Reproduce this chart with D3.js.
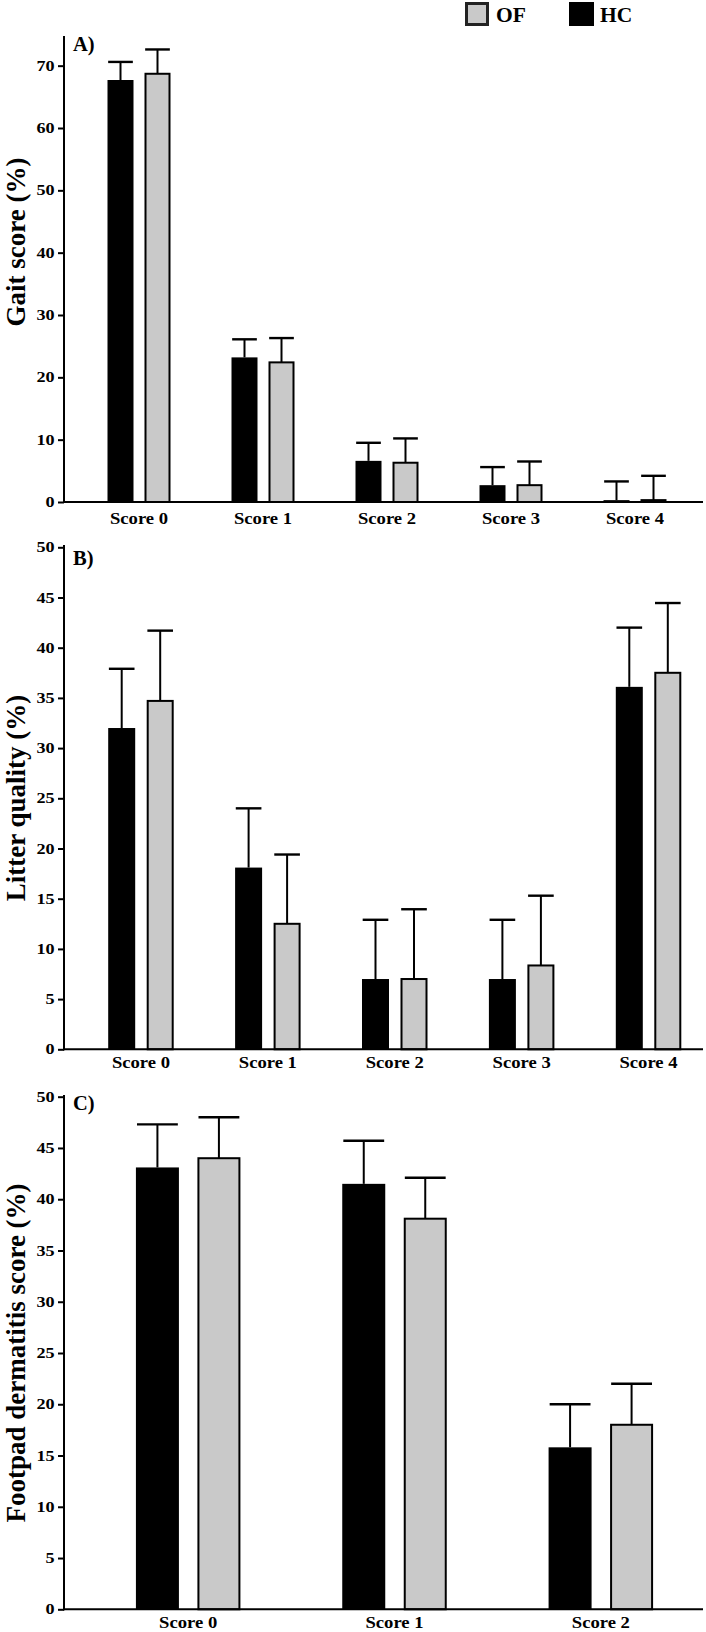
<!DOCTYPE html>
<html><head><meta charset="utf-8">
<script src="https://cdn.jsdelivr.net/npm/d3@7"></script>
<style>
html,body{margin:0;padding:0;background:#fff;}
svg{display:block;}
text{font-family:"Liberation Serif","Times New Roman",serif;font-weight:bold;fill:#000;}
</style>
</head><body>
<svg id="chart" width="706" height="1632"></svg>
<script>
// ---------- data ----------
const series = ["HC", "OF"];
const catsAB = ["Score 0", "Score 1", "Score 2", "Score 3", "Score 4"];
const catsC = ["Score 0", "Score 1", "Score 2"];

const gaitHC = [67.7, 23.2, 6.6, 2.7, 0.3];
const gaitHCErr = [2.9, 2.9, 2.9, 2.9, 3.0];
const gaitOF = [68.7, 22.4, 6.3, 2.7, 0.3];
const gaitOFErr = [3.9, 3.9, 3.9, 3.8, 3.9];

const litterHC = [32.0, 18.1, 7.0, 7.0, 36.1];
const litterHCErr = [5.9, 5.9, 5.9, 5.9, 5.9];
const litterOF = [34.7, 12.5, 7.0, 8.35, 37.5];
const litterOFErr = [7.0, 6.9, 6.95, 6.95, 6.95];

const footHC = [43.1, 41.5, 15.8];
const footHCErr = [4.2, 4.2, 4.2];
const footOF = [44.0, 38.1, 18.0];
const footOFErr = [4.0, 4.0, 4.0];

const gaitTicks = [0, 10, 20, 30, 40, 50, 60, 70];
const fiveTicks = [0, 5, 10, 15, 20, 25, 30, 35, 40, 45, 50];

const legendItems = ["OF", "HC"];
const colors = {HC: "#000000", OF: "#c9c9c9"};

// ---------- layout ----------
const axisX = 64;
const xEnd = 703;
const panels = [
  {label: "A)", title: "Gait score (%)", cats: catsAB, hc: gaitHC, hcErr: gaitHCErr, of: gaitOF, ofErr: gaitOFErr,
   yMax: 75, ticks: gaitTicks, y0: 502, yTop: 34.5, axisTop: 36, xr: [77, 697], bw: 26, gap: 11,
   labelY: 50.7, catY: 523.5, titleY: 242},
  {label: "B)", title: "Litter quality (%)", cats: catsAB, hc: litterHC, hcErr: litterHCErr, of: litterOF, ofErr: litterOFErr,
   yMax: 50, ticks: fiveTicks, y0: 1049.3, yTop: 547.3, axisTop: 545, xr: [77.5, 712], bw: 27, gap: 11.5,
   labelY: 565, catY: 1067.5, titleY: 798},
  {label: "C)", title: "Footpad dermatitis score (%)", cats: catsC, hc: footHC, hcErr: footHCErr, of: footOF, ofErr: footOFErr,
   yMax: 50, ticks: fiveTicks, y0: 1609.3, yTop: 1096.7, axisTop: 1095, xr: [85, 704], bw: 43, gap: 18.5,
   labelY: 1110, catY: 1627.5, titleY: 1353}
];

const svg = d3.select("#chart");

panels.forEach(p => {
  const g = svg.append("g");
  const y = d3.scaleLinear().domain([0, p.yMax]).range([p.y0, p.yTop]);
  const x0 = d3.scaleBand().domain(p.cats).range(p.xr).paddingInner(0).paddingOuter(0);
  const W = 2 * p.bw + p.gap;
  const x1 = d3.scaleBand().domain(series).range([-W / 2, W / 2])
    .paddingInner(p.gap / (p.bw + p.gap)).paddingOuter(0);

  const rows = [];
  p.cats.forEach((c, i) => {
    rows.push({cat: c, s: "HC", v: p.hc[i], e: p.hcErr[i]});
    rows.push({cat: c, s: "OF", v: p.of[i], e: p.ofErr[i]});
  });
  const cx = d => x0(d.cat) + x0.bandwidth() / 2 + x1(d.s);

  // bars
  g.selectAll("rect.bar").data(rows).enter().append("rect")
    .attr("class", "bar")
    .attr("x", d => d.s === "OF" ? cx(d) + 1 : cx(d))
    .attr("width", d => d.s === "OF" ? x1.bandwidth() - 2 : x1.bandwidth())
    .attr("y", d => y(d.v))
    .attr("height", d => p.y0 - y(d.v))
    .attr("fill", d => colors[d.s])
    .attr("stroke", d => d.s === "OF" ? "#000" : "none")
    .attr("stroke-width", 2);

  // error bars (upper only)
  const capW = x1.bandwidth() * 0.95;
  g.selectAll("line.stem").data(rows).enter().append("line")
    .attr("x1", d => cx(d) + x1.bandwidth() / 2).attr("x2", d => cx(d) + x1.bandwidth() / 2)
    .attr("y1", d => y(d.v)).attr("y2", d => y(d.v + d.e))
    .attr("stroke", "#000").attr("stroke-width", 2);
  g.selectAll("line.cap").data(rows).enter().append("line")
    .attr("x1", d => cx(d) + x1.bandwidth() / 2 - capW / 2)
    .attr("x2", d => cx(d) + x1.bandwidth() / 2 + capW / 2)
    .attr("y1", d => y(d.v + d.e)).attr("y2", d => y(d.v + d.e))
    .attr("stroke", "#000").attr("stroke-width", 2.4);

  // y axis
  const ax = g.append("g").attr("transform", `translate(${axisX},0)`)
    .call(d3.axisLeft(y).tickValues(p.ticks).tickSize(6).tickPadding(0).tickFormat(d3.format("d")));
  ax.select(".domain").remove();
  ax.selectAll(".tick line").attr("stroke", "#000").attr("stroke-width", 2);
  ax.selectAll(".tick text")
    .attr("x", -9.5 / 1.25)
    .attr("transform", "scale(1.25,1)")
    .style("font-size", "14.5px")
    .style("font-family", "'Liberation Serif','Times New Roman',serif")
    .style("font-weight", "bold")
    .attr("fill", "#000");
  g.append("line").attr("x1", axisX).attr("x2", axisX)
    .attr("y1", p.axisTop).attr("y2", p.y0 + 1)
    .attr("stroke", "#000").attr("stroke-width", 2);

  // x baseline
  g.append("line").attr("x1", axisX - 1).attr("x2", xEnd)
    .attr("y1", p.y0).attr("y2", p.y0)
    .attr("stroke", "#000").attr("stroke-width", 2);

  // category labels
  g.selectAll("g.cat").data(p.cats).enter().append("g")
    .attr("transform", c => `translate(${x0(c) + x0.bandwidth() / 2},${p.catY})`)
    .append("text")
    .attr("transform", "scale(1.13,1)")
    .attr("text-anchor", "middle")
    .style("font-size", "16.5px")
    .text(c => c);

  // panel label
  g.append("text").attr("x", 73).attr("y", p.labelY)
    .style("font-size", "20.5px").text(p.label);

  // y title
  g.append("text")
    .attr("transform", `translate(25,${p.titleY}) rotate(-90)`)
    .attr("text-anchor", "middle")
    .style("font-size", "27px")
    .text(p.title);
});

// legend
const legX = {OF: 465, HC: 569};
const leg = svg.append("g");
legendItems.forEach(s => {
  if (s === "OF") {
    leg.append("rect").attr("x", legX[s] + 1.5).attr("y", 3.5).attr("width", 21).attr("height", 21)
      .attr("fill", colors.OF).attr("stroke", "#222").attr("stroke-width", 3);
  } else {
    leg.append("rect").attr("x", legX[s]).attr("y", 2).attr("width", 25).attr("height", 24)
      .attr("fill", colors.HC);
  }
  leg.append("text").attr("x", legX[s] + 31).attr("y", 22)
    .style("font-size", "21.5px").text(s);
});
</script>
</body></html>
